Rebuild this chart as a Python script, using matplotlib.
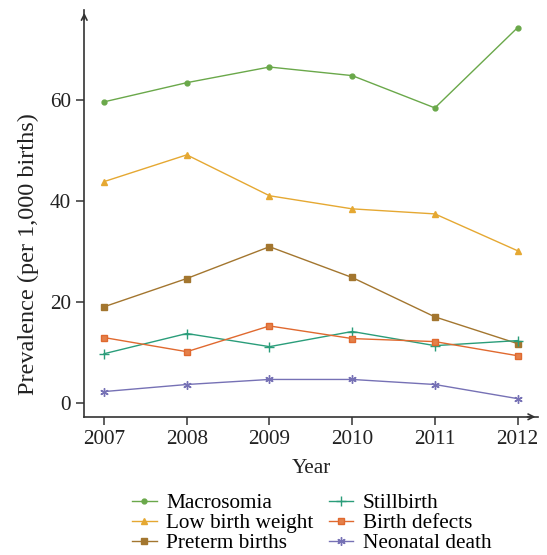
import matplotlib
matplotlib.use("Agg")
import matplotlib.pyplot as plt

plt.rcParams['font.family'] = ['Liberation Serif', 'DejaVu Serif']

years = [2007, 2008, 2009, 2010, 2011, 2012]
macrosomia = [59.6, 63.4, 66.5, 64.8, 58.4, 74.3]
low_birth_weight = [43.8, 49.1, 41.0, 38.4, 37.4, 30.1]
preterm_births = [19.0, 24.6, 30.9, 24.8, 17.0, 11.7]
stillbirth = [9.7, 13.7, 11.1, 14.1, 11.3, 12.3]
birth_defects = [12.9, 10.1, 15.2, 12.7, 12.1, 9.3]
neonatal_death = [2.2, 3.6, 4.6, 4.6, 3.6, 0.8]
yticks = [0, 20, 40, 60]

fig = plt.figure(figsize=(5.47, 5.55), dpi=100)
ax = fig.add_axes([0.154, 0.249, 0.83, 0.733])

lw = 1.0
ax.plot(years, macrosomia, color='#6aa84a', marker='o', ms=3.5, lw=lw, label='Macrosomia')
ax.plot(years, low_birth_weight, color='#e5a832', marker='^', ms=4.5, lw=lw, label='Low birth weight')
ax.plot(years, preterm_births, color='#a3762f', marker='s', ms=4, lw=lw, label='Preterm births')
ax.plot(years, stillbirth, color='#2a9d7a', marker='+', ms=7, mew=1.0, lw=lw, label='Stillbirth')
ax.plot(years, birth_defects, color='#e0692f', marker='s', ms=4.5, mfc='#e4804a', lw=lw, label='Birth defects')
ax.plot(years, neonatal_death, color='#7671b5', marker=(6, 2, 0), ms=6, mew=1.0, lw=lw, label='Neonatal death')

ax.set_xlim(2006.76, 2012.25)
ax.set_ylim(-2.8, 77.8)
ax.set_xticks(years)
ax.set_yticks(yticks)
for s in ['top', 'right']:
    ax.spines[s].set_visible(False)
for s in ['left', 'bottom']:
    ax.spines[s].set_color('#333333')
    ax.spines[s].set_linewidth(1.2)
ax.tick_params(axis='both', direction='out', length=6, width=1.1, color='#333333',
               labelsize=15.3, labelcolor='#222222')
ax.set_xlabel('Year', fontsize=15.3, color='#222222', labelpad=7)
ax.set_ylabel('Prevalence (per 1,000 births)', fontsize=17.5, color='#222222')
ax.yaxis.set_label_coords(-0.10, 0.40)

# axis arrows
ax.annotate('', xy=(0, 1.0), xytext=(0, 0.97), xycoords='axes fraction',
            arrowprops=dict(arrowstyle='->', color='#333333', lw=1.2), annotation_clip=False)
ax.annotate('', xy=(1.0, 0), xytext=(0.97, 0), xycoords='axes fraction',
            arrowprops=dict(arrowstyle='->', color='#333333', lw=1.2), annotation_clip=False)

handles, labels = ax.get_legend_handles_labels()
fig.legend(handles, labels, loc='upper center', bbox_to_anchor=(0.57, 0.126), ncol=2,
           frameon=False, fontsize=15.3, handlelength=1.15, handletextpad=0.45,
           columnspacing=0.72, labelspacing=0.0, borderaxespad=0)

fig.savefig('out.png', dpi=100)
